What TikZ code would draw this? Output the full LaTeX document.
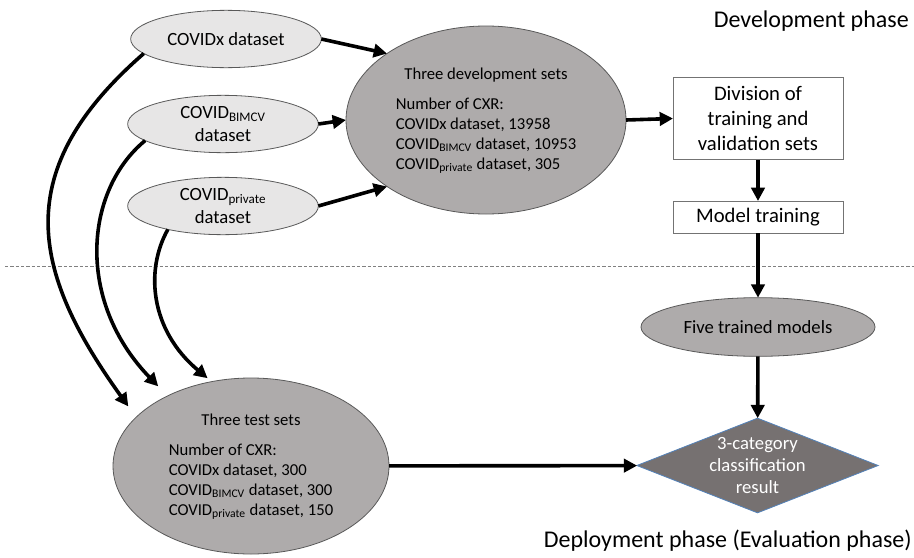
\documentclass[tikz,border=0pt]{standalone}
\usepackage{fontspec}
\setmainfont{Carlito}
\usetikzlibrary{shapes.geometric,arrows.meta}
\definecolor{lightset}{RGB}{231,230,230}
\definecolor{setgray}{RGB}{174,171,171}
\definecolor{resgray}{RGB}{118,113,113}
\definecolor{resedge}{RGB}{84,130,185}

\begin{document}
\begin{tikzpicture}[x=0.75pt,y=-0.75pt,
  >={Triangle[length=10pt,width=10pt]},
  flow/.style={->,line width=2.7pt},
  source/.style={ellipse,draw=black!65,line width=0.6pt,fill=lightset,inner sep=0pt,outer sep=0pt,
    minimum width=143pt,minimum height=43pt,align=center,font=\fontsize{14}{17}\selectfont},
  bigset/.style={ellipse,draw=black!65,line width=0.6pt,fill=setgray,inner sep=0pt,outer sep=0pt,
    font=\fontsize{12.5}{15}\selectfont},
  stepbox/.style={rectangle,draw=black!55,line width=0.6pt,fill=white,minimum width=127.5pt,
    outer sep=0pt,align=center,font=\fontsize{15.5}{18.75}\selectfont},
  phase/.style={font=\fontsize{18}{21}\selectfont,anchor=base east,inner sep=0pt}]
\useasboundingbox (0,0) rectangle (914,557);
\draw [gray, dash pattern=on 2.5pt off 1.5pt, line width=0.7pt] (5,266) -- (914,266);

\node[source] (covx) at (226,39) {COVIDx dataset};
\node[source] (bimcv) at (223,124) {COVID\textsubscript{BIMCV}\\dataset};
\node[source] (priv) at (223,206) {COVID\textsubscript{private}\\dataset};

\node[bigset,minimum width=210pt,minimum height=141pt] (dev) at (486,120) {\begin{tabular}{@{}l@{}}
  \multicolumn{1}{@{}c@{}}{Three development sets}\\[7.5pt]
  Number of CXR:\\
  COVIDx dataset, 13958\\
  COVID\textsubscript{BIMCV} dataset, 10953\\
  COVID\textsubscript{private} dataset, 305
  \end{tabular}};
\node[bigset,minimum width=207pt,minimum height=132pt] (test) at (251,466) {\begin{tabular}{@{}l@{}}
  \multicolumn{1}{@{}c@{}}{Three test sets}\\[7.5pt]
  Number of CXR:\\
  COVIDx dataset, 300\\
  COVID\textsubscript{BIMCV} dataset, 300\\
  COVID\textsubscript{private} dataset, 150
  \end{tabular}};

\node[stepbox,minimum height=62pt] (div) at (758,118.5) {Division of\\training and\\validation sets};
\node[stepbox,minimum height=24pt] (train) at (758,217) {Model training};
\node[bigset,minimum width=175.5pt,minimum height=44pt,font=\fontsize{14}{17}\selectfont] (five) at (758,327) {Five trained models};
\node[diamond,draw=resedge,line width=0.6pt,fill=resgray,minimum width=181pt,minimum height=71pt,
  inner sep=0pt,outer sep=0pt] (result) at (757.5,465.5) {};
\node[text=white,align=center,font=\fontsize{14}{16.5}\selectfont] (restext) at (result.center) {3-category\\classification\\result};

\node[phase] (devphase) at (909,27) {Development phase};
\node[phase] (depphase) at (912,547) {Deployment phase (Evaluation phase)};

\draw[flow] (covx.east) -- (dev.north west);
\draw[flow] (bimcv.east) -- (dev.west);
\draw[flow] (priv.east) -- (dev.south west);
\draw[flow] (dev.east) -- (div.west);
\draw[flow] (div) -- (train);
\draw[flow] (train) -- (five);
\draw[flow] (five) -- (result);
\draw[flow] (test) -- (result);

\draw[flow,shorten >=10pt] (covx.190) .. controls (10,170) and (30,270) .. (test.157);
\draw[flow,shorten >=10pt] (bimcv.192) .. controls (85,190) and (75,300) .. (test.140);
\draw[flow,shorten >=4pt] (priv.203) .. controls (145,270) and (150,330) .. (test.115);
\end{tikzpicture}
\end{document}
